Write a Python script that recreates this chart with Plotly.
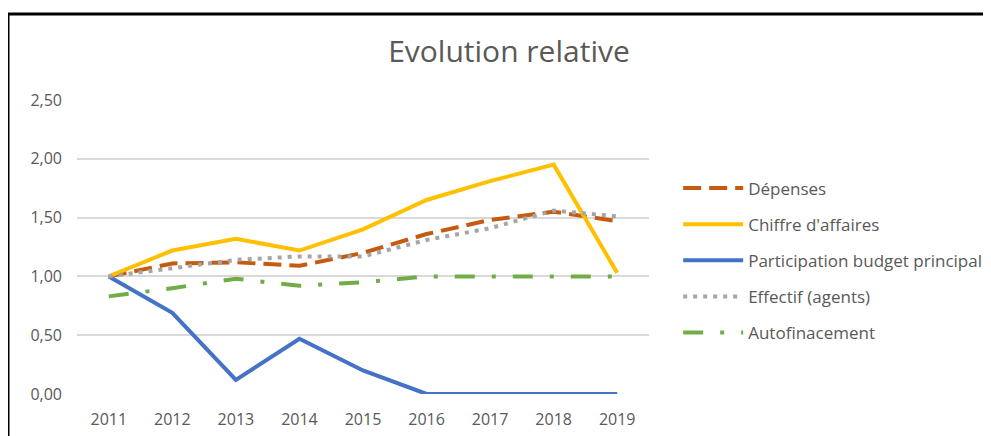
import plotly.graph_objects as go

# Years and relative values (base 2011 = 1).
years = ["2011", "2012", "2013", "2014", "2015", "2016", "2017", "2018", "2019"]
depenses = [1.00, 1.11, 1.12, 1.09, 1.20, 1.36, 1.48, 1.55, 1.47]
chiffre_affaires = [1.00, 1.22, 1.32, 1.22, 1.40, 1.65, 1.81, 1.95, 1.03]
participation = [1.00, 0.69, 0.12, 0.47, 0.20, 0.00, 0.00, 0.00, 0.00]
effectif = [1.00, 1.07, 1.14, 1.17, 1.17, 1.31, 1.41, 1.56, 1.51]
autofinancement = [0.83, 0.90, 0.98, 0.92, 0.95, 1.00, 1.00, 1.00, 1.00]
y_ticks = [0, 0.5, 1.0, 1.5, 2.0, 2.5]
y_tick_labels = ["0,00", "0,50", "1,00", "1,50", "2,00", "2,50"]

font_name = "Open Sans"
grey_text = "#595959"

series = [
    ("Dépenses", depenses, "#C55A11", "18px,8px"),
    ("Chiffre d'affaires", chiffre_affaires, "#FFC000", "solid"),
    ("Participation budget principal", participation, "#4472C4", "solid"),
    ("Effectif (agents)", effectif, "#A5A5A5", "4px,6px"),
    ("Autofinacement", autofinancement, "#70AD47", "20px,17px,4px,17px"),
]

fig = go.Figure()
for name, values, colour, dash in series:
    fig.add_trace(go.Scatter(x=years, y=values, name=name, mode="lines",
                             legendgroup=name,
                             line=dict(color=colour, dash=dash, width=4)))

# The page body adds 8px of offset, so positions below are page - 8.
fig.update_layout(
    width=991, height=436,
    margin=dict(l=69, r=350, t=92, b=50),
    plot_bgcolor="white", paper_bgcolor="white",
    font=dict(family=font_name, size=15, color=grey_text),
    title=dict(text="Evolution relative", x=501 / 991, xanchor="center",
               y=1 - 43 / 436, yanchor="middle",
               font=dict(family=font_name, size=30, color=grey_text)),
    legend=dict(x=1.051, xanchor="left", y=0.76, yanchor="top",
                itemwidth=60, tracegroupgap=11,
                font=dict(family=font_name, size=17, color=grey_text)),
    showlegend=True,
)
fig.update_xaxes(type="category", range=[-0.5, 8.5], showgrid=False,
                 showline=False, ticks="", ticklabelstandoff=14,
                 tickfont=dict(size=16))
fig.update_yaxes(range=[0, 2.5], tickvals=y_ticks, ticktext=y_tick_labels,
                 gridcolor="#D9D9D9", gridwidth=1.5, zeroline=False,
                 showline=False, ticks="", ticklabelstandoff=14,
                 tickfont=dict(size=16))

# Frame of the chart (top and left edges visible in the picture).
top = (386 - 6) / 294
left = (0 - 69) / 572
fig.add_shape(type="line", xref="paper", yref="paper",
              x0=left, x1=1.7, y0=top, y1=top,
              line=dict(color="black", width=3))
fig.add_shape(type="line", xref="paper", yref="paper",
              x0=left, x1=left, y0=-0.3, y1=top,
              line=dict(color="black", width=3))

fig.write_html("out.html")
